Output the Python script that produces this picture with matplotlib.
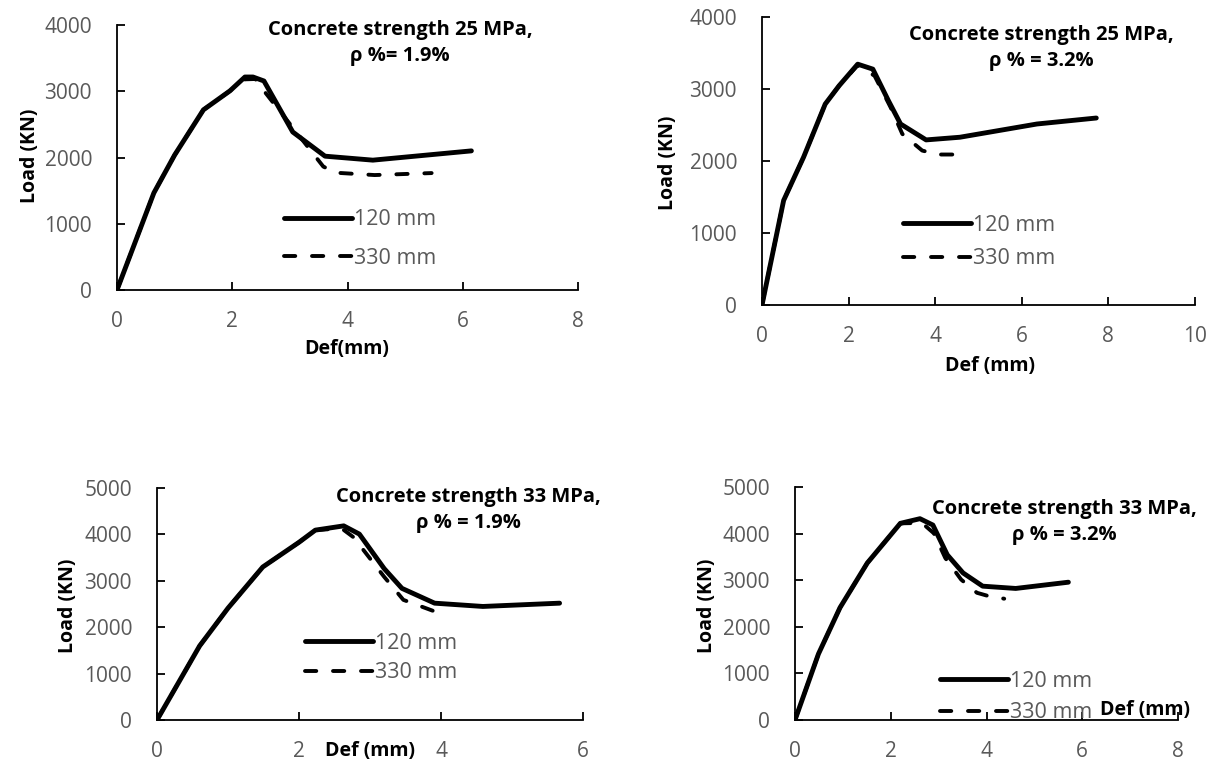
import matplotlib.pyplot as plt

plt.rcParams['font.family'] = ['Open Sans', 'DejaVu Sans']

W, H = 1215, 764
GREY = '#595959'

# panel 1: 25 MPa, rho 1.9%
p1_120_x = [0, 0.64, 1.0, 1.5, 1.96, 2.22, 2.36, 2.55, 3.05, 3.61, 4.44, 6.15]
p1_120_y = [0, 1466, 2037, 2720, 3006, 3215, 3215, 3155, 2385, 2020, 1960, 2100]
p1_330_x = [0, 0.64, 1.0, 1.5, 1.96, 2.22, 2.4, 2.55, 3.58, 3.8, 4.47, 5.46]
p1_330_y = [0, 1466, 2037, 2720, 3006, 3180, 3185, 3006, 1863, 1770, 1735, 1765]

# panel 2: 25 MPa, rho 3.2%
p2_120_x = [0, 0.5, 0.96, 1.46, 1.78, 2.21, 2.56, 2.92, 3.2, 3.79, 4.57, 6.35, 7.72]
p2_120_y = [0, 1453, 2053, 2791, 3045, 3345, 3276, 2837, 2514, 2293, 2330, 2514, 2597]
p2_330_x = [0, 0.5, 0.96, 1.46, 1.78, 2.21, 2.6, 2.97, 3.24, 3.7, 4.06, 4.47]
p2_330_y = [0, 1453, 2053, 2791, 3045, 3330, 3183, 2745, 2376, 2145, 2090, 2090]

# panel 3: 33 MPa, rho 1.9%
p3_120_x = [0, 0.6, 1.0, 1.49, 2.0, 2.23, 2.63, 2.85, 3.2, 3.45, 3.91, 4.59, 5.67]
p3_120_y = [0, 1596, 2411, 3298, 3830, 4092, 4184, 4007, 3262, 2837, 2518, 2447, 2518]
p3_330_x = [0, 0.6, 1.0, 1.49, 2.0, 2.23, 2.6, 2.77, 3.2, 3.47, 3.91]
p3_330_y = [0, 1596, 2411, 3298, 3830, 4092, 4130, 3936, 3085, 2589, 2340]

# panel 4: 33 MPa, rho 3.2%
p4_120_x = [0, 0.49, 0.94, 1.51, 2.2, 2.61, 2.88, 3.18, 3.51, 3.92, 4.61, 5.71]
p4_120_y = [0, 1418, 2411, 3369, 4220, 4320, 4184, 3546, 3156, 2872, 2823, 2957]
p4_330_x = [0, 0.49, 0.94, 1.51, 2.2, 2.65, 2.9, 3.14, 3.47, 3.8, 4.04, 4.37]
p4_330_y = [0, 1418, 2411, 3369, 4220, 4230, 4007, 3475, 3014, 2730, 2660, 2603]

series_names = ['120 mm', '330 mm']
titles = ['Concrete strength 25 MPa,\nρ %= 1.9%',
          'Concrete strength 25 MPa,\nρ % = 3.2%',
          'Concrete strength 33 MPa,\nρ % = 1.9%',
          'Concrete strength 33 MPa,\nρ % = 3.2%']
xlabels = ['Def(mm)', 'Def (mm)', 'Def (mm)', 'Def (mm)']
xmax = [8, 10, 6, 8]
ymax = [4000, 4000, 5000, 5000]


def px(x, y):
	return x / W, 1 - y / H


def make_axes(fig, left, top, right, bottom):
	x0, y0 = px(left, bottom)
	return fig.add_axes([x0, y0, (right - left) / W, (bottom - top) / H])


def panel(ax, d120, d330, xm, ym):
	ax.plot(d120[0], d120[1], color='black', lw=3.5, solid_capstyle='round',
		solid_joinstyle='round', label=series_names[0])
	ax.plot(d330[0], d330[1], color='black', lw=2.8, dashes=(2.9, 4.3),
		dash_capstyle='round', label=series_names[1])
	ax.set_xlim(0, xm)
	ax.set_ylim(0, ym)
	ax.set_xticks(range(0, xm + 1, 2))
	ax.set_yticks(range(0, ym + 1, 1000))
	ax.spines['top'].set_visible(False)
	ax.spines['right'].set_visible(False)
	for s in ('left', 'bottom'):
		ax.spines[s].set_linewidth(1.3)
	ax.tick_params(direction='in', length=6, width=1.3, labelsize=15,
		labelcolor=GREY)
	ax.tick_params(axis='x', pad=15)
	ax.tick_params(axis='y', pad=18)
	ax.patch.set_alpha(0)


fig = plt.figure(figsize=(W / 100, H / 100), dpi=100)

axes = [make_axes(fig, 117, 25, 578, 290),
	make_axes(fig, 762, 17, 1195, 305),
	make_axes(fig, 157, 488, 583, 720),
	make_axes(fig, 795, 487, 1178, 720)]

data = [((p1_120_x, p1_120_y), (p1_330_x, p1_330_y)),
	((p2_120_x, p2_120_y), (p2_330_x, p2_330_y)),
	((p3_120_x, p3_120_y), (p3_330_x, p3_330_y)),
	((p4_120_x, p4_120_y), (p4_330_x, p4_330_y))]

for i in range(4):
	panel(axes[i], data[i][0], data[i][1], xmax[i], ymax[i])

# titles, axis labels and legends placed in figure pixels
title_pos = [(400, 43), (1041, 48), (468, 510), (1064, 522)]
ylabel_pos = [(30, 156), (668, 163), (68, 606), (707, 606)]
xlabel_pos = [(347, 349), (990, 366), (370, 751), (1145, 710)]
legend_pos = [(284, 239), (903, 242), (305, 658), (940, 697)]
legend_gap = [0.83, 0.6, 0.41, 0.5]

for i in range(4):
	tx, ty = px(*title_pos[i])
	fig.text(tx, ty, titles[i], ha='center', va='center', fontsize=14.5,
		fontweight='bold', linespacing=1.45)
	lx, ly = px(*ylabel_pos[i])
	fig.text(lx, ly, 'Load (KN)', ha='center', va='center', rotation=90,
		fontsize=14, fontweight='bold')
	xx, xy = px(*xlabel_pos[i])
	fig.text(xx, xy, xlabels[i], ha='center', va='center', fontsize=14,
		fontweight='bold')
	gx, gy = px(*legend_pos[i])
	leg = axes[i].legend(loc='center left', bbox_to_anchor=(gx, gy),
		bbox_transform=fig.transFigure, frameon=False, fontsize=15.5,
		handlelength=3.15, handletextpad=0.1, labelspacing=legend_gap[i],
		borderpad=0, borderaxespad=0)
	for t in leg.get_texts():
		t.set_color(GREY)

fig.savefig('out.png', dpi=100)
